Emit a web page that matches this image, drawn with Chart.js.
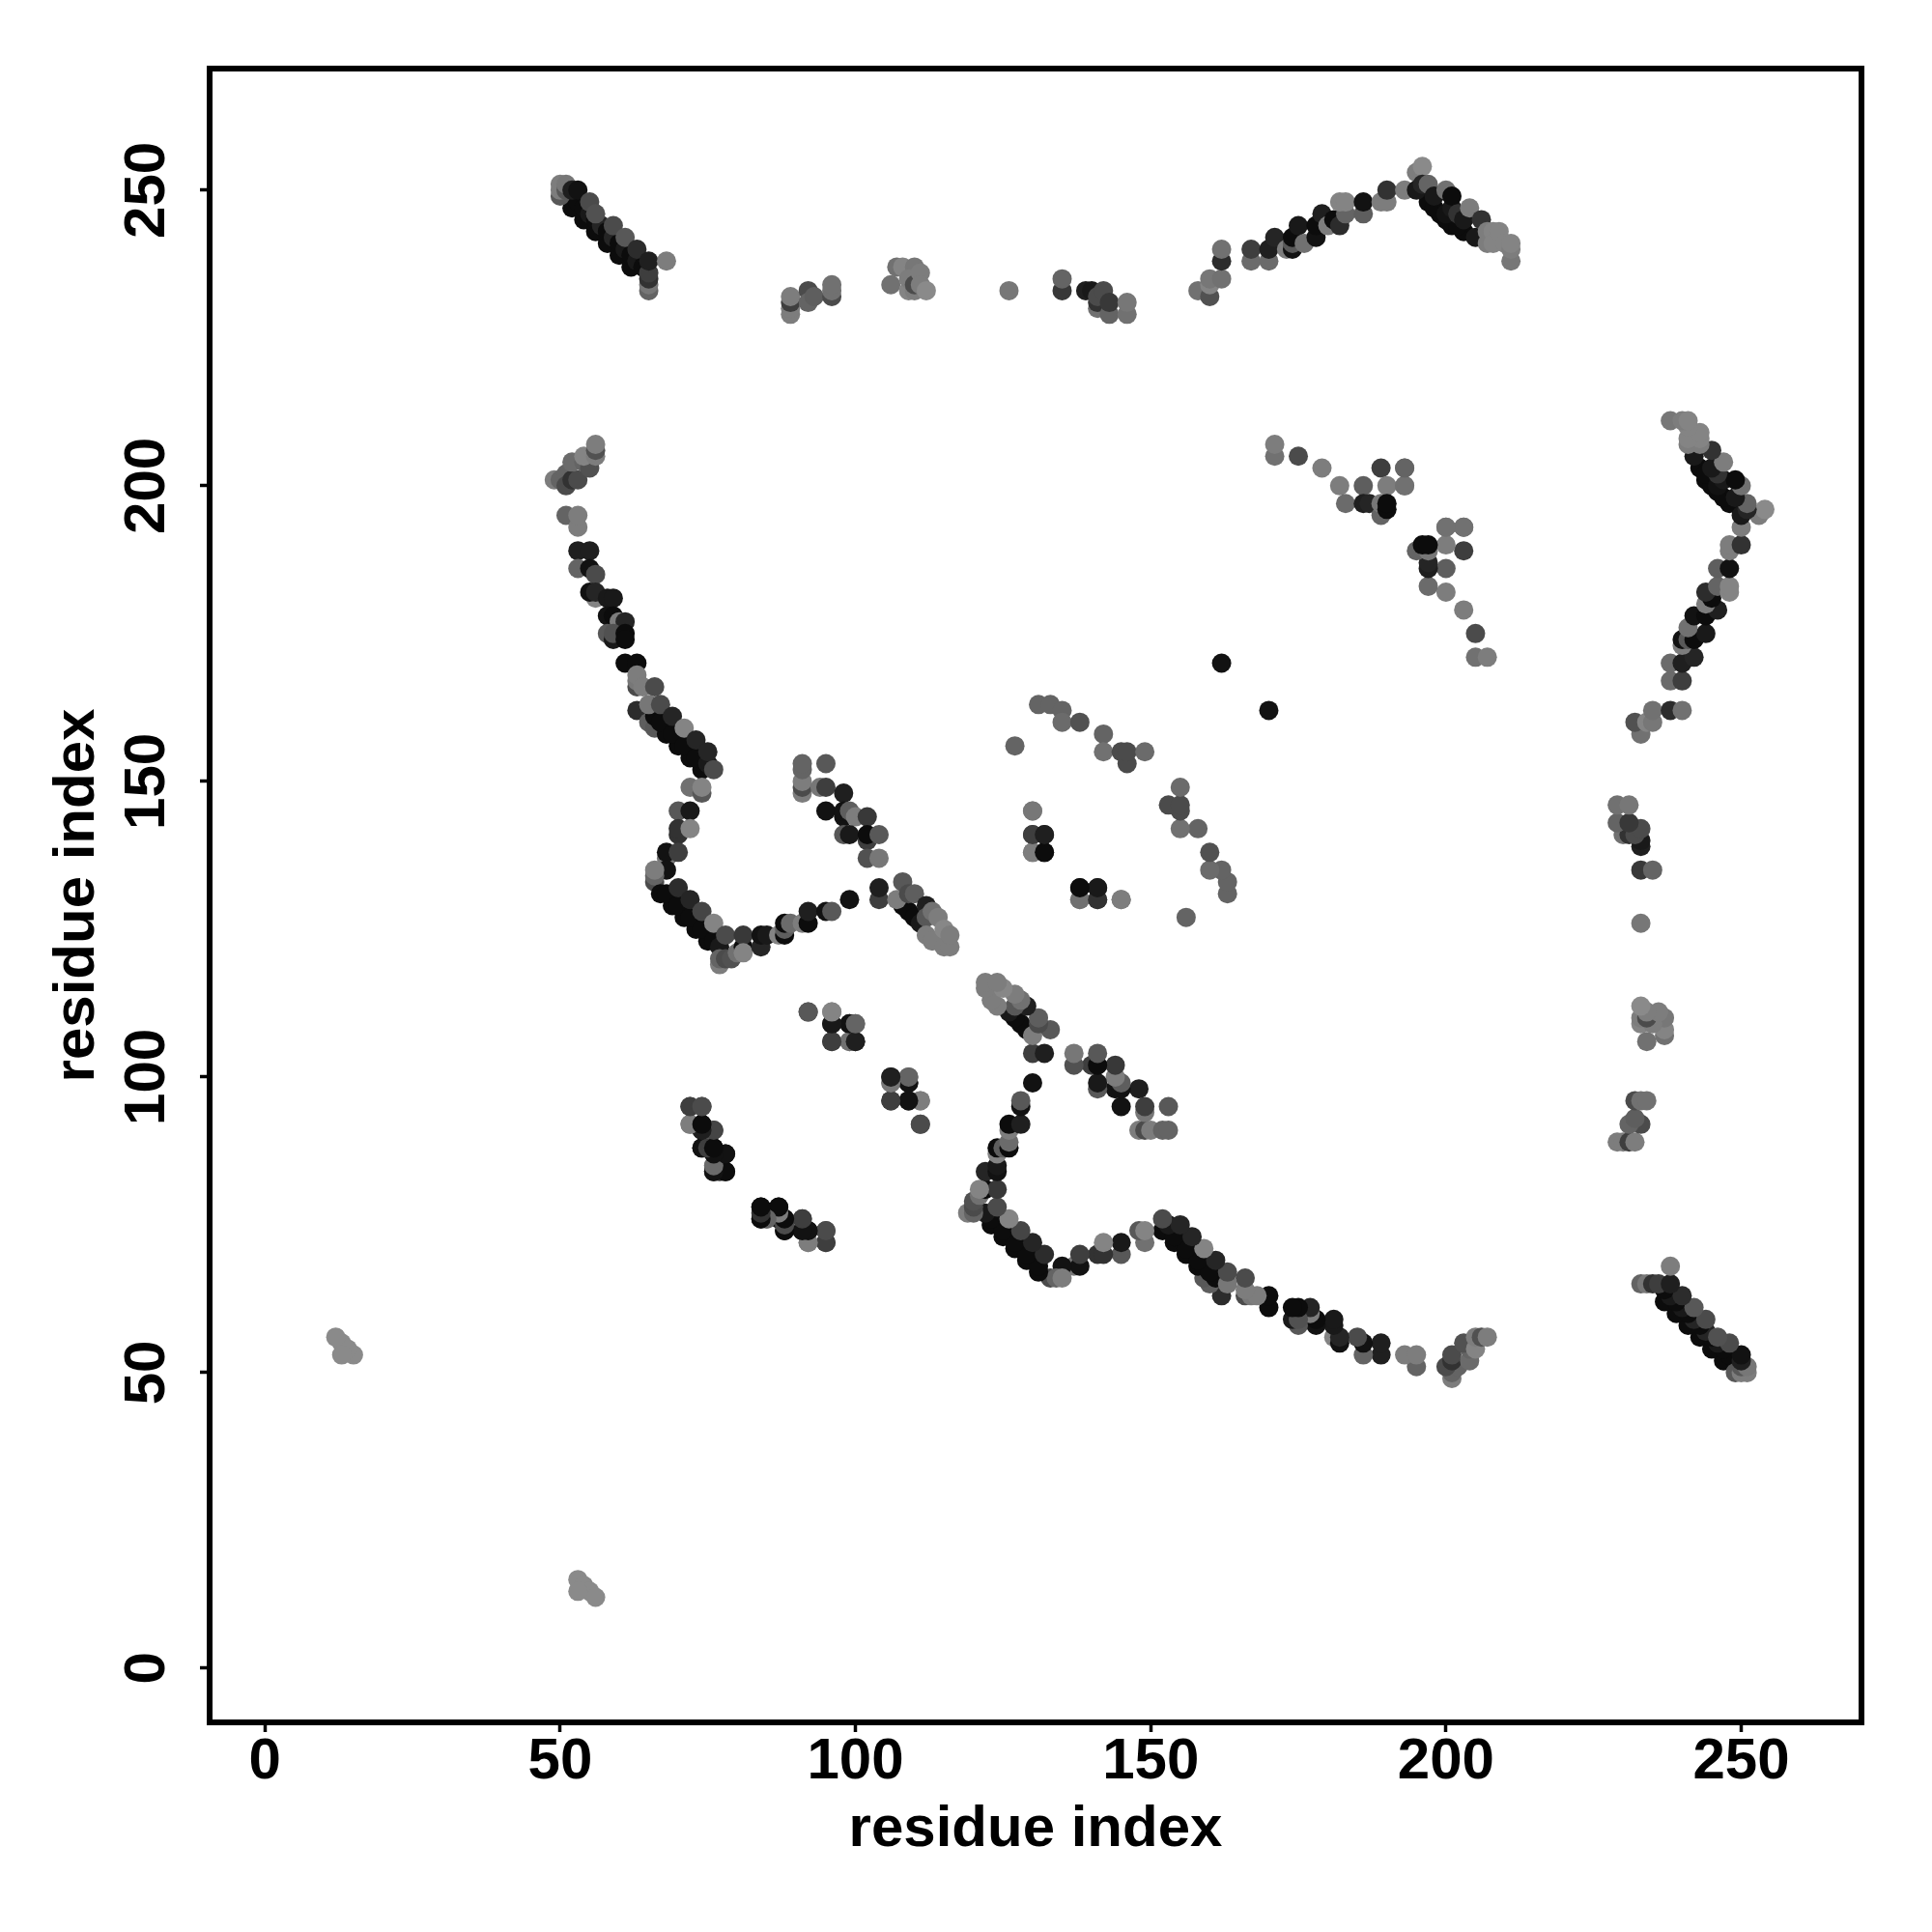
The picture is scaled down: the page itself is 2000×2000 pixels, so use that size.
<!DOCTYPE html>
<html>
<head>
<meta charset="utf-8">
<title>residue contact map</title>
<script src="https://cdn.jsdelivr.net/npm/chart.js@4"></script>
<style>
  html, body { margin: 0; padding: 0; background: #fff; }
</style>
</head>
<body>
<canvas id="contactMap" width="2000" height="2000"></canvas>
<script>
// each row: residue i, residue j, contact strength (0 = faint, 1 = strong)
// the map is symmetric so every row is drawn at (i,j) and (j,i)
const tickValues = [0, 50, 100, 150, 200, 250];
const axisLabel = 'residue index';

const sheetTop = [
  [52,247,1],[54,245,1],[56,243,1],[58,241,1],[60,239,1],[62,237,1],
  [52,249,1],[53,248,1],[54,247,1],[55,246,.9],[56,245,1],[57,244,.8],[58,243,1],[59,242,.8],[60,241,1],[61,240,.9],[62,239,1],[63,238,.9],[64,237,1],
  [50,249,.4],[50,250,.1],[50,251,.1],[51,250,.4],[51,251,.15],[52,250,.85],[53,250,.95],
  [55,248,.5],[56,246,.45],[59,244,.5],[61,242,.4],[63,240,.75],
  [65,233,.3],[65,234,.15],[65,235,.7],[65,236,.6],[65,238,.85],[68,238,.1]
];
const rowGap = [
  [89,229,.1],[89,230,.1],[89,231,.6],[89,232,.1],
  [92,233,.5],[92,231,.3],[93,232,.35],[96,232,.5],[96,233,.2],[96,234,.2],
  [106,234,.2],[107,237,.2],[108,237,.05],[110,237,.15],[109,233,.05],[109,235,.1],[110,233,.1],[110,234,.5],[111,236,.1],[111,234,.1],[112,233,0],
  [126,233,.15],
  [135,233,.65],[135,235,.3],[139,233,.85],[140,233,.9],[141,230,.2],[141,231,.7],[141,232,.5],
  [142,233,.5],[143,229,.3],[143,231,.65],[146,229,.2],[146,231,.15]
];
const sheetArc = [
  [158,233,.2],[160,232,.45],[160,234,.05],[160,235,.15],[162,235,.2],[162,238,.75],[162,240,.2],
  [167,238,.25],[167,240,.6],[170,238,.25],[170,240,.85],[171,242,.8],[173,240,.1],[174,240,.95],[174,241,.4],[174,242,1],[175,244,.9],
  [176,241,.2],[178,242,.95],[178,244,1],[179,246,.85],[180,244,.1],[181,245,1],[182,244,.75],[183,246,.3],[182,248,.05],[183,248,.05],
  [186,246,.35],[186,248,.95],[189,248,.1],[190,248,.1],[190,250,.7],[193,250,.1],
  [197,248,1],[199,246,1],[201,244,1],[203,243,1],[205,242,.9],[198,247,1],[200,245,1],[202,244,1],
  [195,253,.1],[196,254,0],[195,250,.9],[196,251,.8],[197,251,.3],[198,249,.9],
  [200,246,.95],[201,247,.9],[200,250,.2],[201,249,1],[202,246,.7],[203,245,.9],[204,247,.1],[206,245,.7],
  [207,241,.1],[207,243,.1],[208,243,.05],[208,241,.05],[209,243,.05],[210,241,.05],[211,238,.15],[211,240,.1],[211,241,.05]
];
const farCluster = [
  [171,205,.2],[171,207,.1],[175,205,.5],[179,203,.1],[182,200,.1],[186,200,.35],[189,203,.6],[193,203,.2],
  [190,200,.1],[193,200,.2],[183,197,.25],[186,197,.85],[187,197,.8],[189,195,.3],[189,197,.15],[190,196,1],[190,197,1],
  [200,193,.2],[203,193,.3],[162,170,.95]
];
const loopUpper = [
  [49,201,.1],[50,201,.3],[51,202,.3],[51,200,.5],[52,201,.7],[53,201,.5],[52,204,.25],[54,204,.3],[55,203,.45],
  [54,205,.05],[56,205,.1],[56,206,.45],[56,207,.1],
  [51,195,.3],[53,193,.1],[53,195,.1],[53,189,.85],[55,189,.85],[53,186,.3],[55,186,.95],[56,185,.5]
];
const sheetLong = [
  [56,181,.05],[55,182,.95],[56,182,.8],[58,181,.9],[59,181,.9],[58,178,.95],[59,178,1],[60,177,.1],[61,177,.8],
  [58,175,.4],[59,174,.9],[59,175,.45],[61,175,1],[61,174,1],[61,170,1],[63,170,1],
  [63,166,.5],[63,167,.15],[63,168,.1],[64,166,.1],[66,166,.5],[63,162,.75],
  [65,160,.35],[66,159,.4],[66,161,1],[68,158,1],[70,156,1],[72,154,1],[74,152,1],
  [67,160,1],[69,158,1],[71,156,1],[73,154,1],[75,153,.9],
  [65,163,.15],[67,163,.5],[69,161,.8],[71,159,.05],[73,157,.8],[75,155,.8],[76,152,.5],
  [72,149,.2],[74,148,.4],[74,149,.05]
];
const sheetHairpin = [
  [70,145,.4],[72,145,.9],[70,141,.7],[70,142,.7],[72,142,.05],[68,137,.15],[68,138,.95],[70,138,.6],[68,135,.95],
  [66,133,.5],[66,134,.3],[66,135,.1],
  [67,131,1],[69,129,1],[71,127,1],[73,125,1],[75,123,1],
  [68,131,1],[70,129,1],[72,127,1],[74,125,1],[76,123,1],[77,122,.9],
  [70,132,.75],[72,130,.8],[74,128,.55],[76,126,.05],[77,119,.1],[77,120,.3],[78,120,.5],[79,120,.45],[78,124,.5],[80,121,.2],[81,122,1],[81,124,.65],
  [81,121,.05],[84,122,.8],[84,124,.95],[85,124,.9]
];
const turnSegment = [
  [87,124,.05],[88,124,1],[88,125,.35],[88,126,1],[89,126,.25],[91,126,.1],[92,126,1],[92,128,.85],[95,128,.95],[96,128,.4],[99,130,.95],
  [104,130,.6],[104,132,.85]
];
const sheetRight = [
  [108,129,1],[109,128,1],[110,127,1],[111,126,.9],[107,130,.1],[108,133,.4],[109,131,.5],[110,131,.35],[112,129,.85],[112,127,.4],
  [113,128,.2],[112,124,.1],[113,123,.1],[114,127,.1],[115,122,.1],[115,125,.02],[116,122,.1],[116,124,.1]
];
const sideBranch = [
  [91,148,.1],[91,149,.5],[91,150,.1],[91,152,.3],[91,153,.3],[95,153,.4],[94,149,.15],[95,149,.6],[98,148,.85],
  [95,145,.95],[98,144,.95],[98,145,.95],[99,145,.35],[100,144,.1],[102,144,.65],
  [98,141,.4],[99,141,.9],[102,140,.6],[102,141,1],[104,141,.4],[102,137,.45],[104,137,.15]
];
const middlePatch = [
  [130,145,.1],[130,138,.2],[130,141,.7],[132,141,.9],[132,138,1],[138,130,.1],[138,132,1],[141,130,.6],[141,132,.85],[145,130,.15],
  [127,156,.3],[131,163,.3],[133,163,.3],[135,162,.3],[135,160,.25],[138,160,.45],[142,158,.3],[142,155,.2],
  [145,155,.5],[146,153,.5],[146,155,.5],[149,155,.25]
];
const smallPatches = [
  [92,111,.5],[96,111,.1],[96,109,.95],[99,109,.95],[100,109,.3],[96,106,.6],[99,106,.15],[100,106,.85],
  [106,99,.2],[106,100,.85],[109,99,.95],[109,100,.3],[106,96,.6],[109,96,.9],[111,96,.05],[111,92,.4],
  [72,95,.6],[74,95,.5],[72,92,.1],[74,92,.95],[74,91,.95],[76,91,.6],[74,88,1],[75,88,.5],[76,88,1],[77,87,.1],[78,87,1],[76,85,.3],[76,84,1],[77,84,.7],[78,84,1],
  [84,78,1],[84,76,.95],[85,76,.25],[87,78,.95],[87,76,.95],[88,74,.95],[88,75,.6],[88,76,1],[91,76,.55],[91,74,.85],[92,72,.1],[92,74,1],[95,72,.6],[95,74,.5]
];
const farPair = [
  [15,53,0],[14,54,0],[13,55,0],[12,56,0],[13,53,0]
];

const contacts = [sheetTop, rowGap, sheetArc, farCluster, loopUpper, sheetLong, sheetHairpin,
  turnSegment, sheetRight, sideBranch, middlePatch, smallPatches, farPair].flat();

function cor_contato(p) {
  let g = Math.round(12 + (1 - p) * 126);
  return `rgb(${g}, ${g}, ${g})`;
}

const pontos = [];
const cores = [];
contacts.forEach(function (c) {
  pontos.push({ x: c[0], y: c[1] });
  cores.push(cor_contato(c[2]));
});
contacts.forEach(function (c) {
  pontos.push({ x: c[1], y: c[0] });
  cores.push(cor_contato(c[2]));
});

const fonte = 'bold 60px "Liberation Sans"';

// box around the plot and the rotated y tick labels
const caixaPlugin = {
  id: 'caixa',
  afterDraw(chart) {
    const ctx = chart.ctx;
    const a = chart.chartArea;
    ctx.save();
    ctx.strokeStyle = '#000';
    ctx.lineWidth = 6;
    ctx.strokeRect(a.left, a.top, a.right - a.left, a.bottom - a.top);
    ctx.fillStyle = '#000';
    ctx.font = fonte;
    ctx.textAlign = 'center';
    ctx.textBaseline = 'middle';
    tickValues.forEach(function (v) {
      ctx.save();
      ctx.translate(150, chart.scales.y.getPixelForValue(v));
      ctx.rotate(-Math.PI / 2);
      ctx.fillText(String(v), 0, 3);
      ctx.restore();
    });
    ctx.restore();
  }
};

function setTicks(scale) {
  scale.ticks = tickValues.map(function (v) { return { value: v }; });
}

const grade = {
  drawOnChartArea: false,
  drawTicks: true,
  tickLength: 10,
  tickWidth: 3.5,
  tickColor: '#000'
};

new Chart(document.getElementById('contactMap').getContext('2d'), {
  type: 'scatter',
  data: {
    datasets: [{
      data: pontos,
      pointBackgroundColor: cores,
      pointBorderWidth: 0,
      pointRadius: 10
    }]
  },
  plugins: [caixaPlugin],
  options: {
    responsive: false,
    animation: false,
    layout: { padding: { top: 71, right: 73, left: 0, bottom: 0 } },
    plugins: { legend: { display: false }, tooltip: { enabled: false } },
    scales: {
      x: {
        type: 'linear',
        min: -9.36,
        max: 270.36,
        afterBuildTicks: setTicks,
        afterFit(scale) { scale.height = 217; },
        grid: grade,
        border: { display: false },
        ticks: {
          autoSkip: false,
          maxRotation: 0,
          minRotation: 0,
          color: '#000',
          padding: -5,
          font: { family: 'Liberation Sans', weight: 'bold', size: 60 }
        },
        title: {
          display: true,
          text: axisLabel,
          color: '#000',
          font: { family: 'Liberation Sans', weight: 'bold', size: 60 },
          padding: { top: 0, bottom: 70 }
        }
      },
      y: {
        type: 'linear',
        min: -9.16,
        max: 270.56,
        afterBuildTicks: setTicks,
        afterFit(scale) { scale.width = 217; },
        grid: grade,
        border: { display: false },
        ticks: { display: false },
        title: {
          display: true,
          text: axisLabel,
          color: '#000',
          font: { family: 'Liberation Sans', weight: 'bold', size: 60 },
          padding: { top: 44, bottom: 0 }
        }
      }
    }
  }
});
</script>
</body>
</html>
